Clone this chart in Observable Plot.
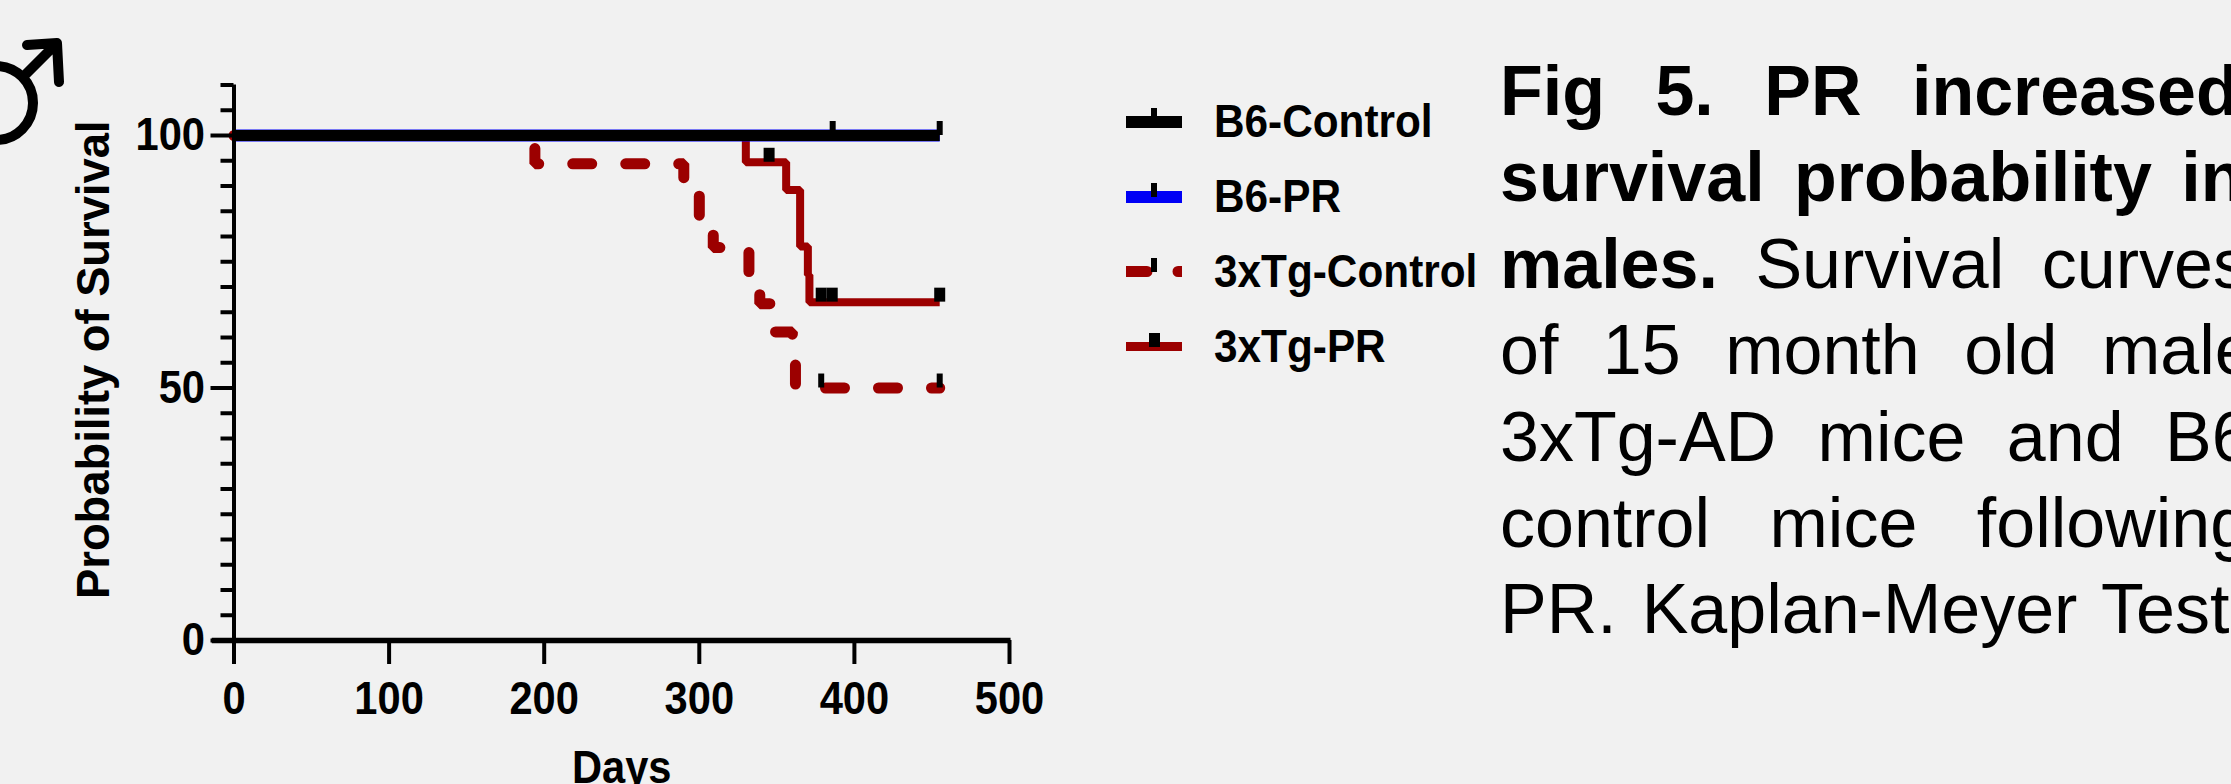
<!DOCTYPE html>
<html>
<head>
<meta charset="utf-8">
<script src="https://cdn.jsdelivr.net/npm/d3@7"></script>
<script src="https://cdn.jsdelivr.net/npm/@observablehq/plot@0.6"></script>
<style>
html,body{margin:0;padding:0;width:2231px;height:784px;overflow:hidden;background:#f1f1f1;}
#stage{position:relative;width:2231px;height:784px;overflow:hidden;}
#chart,#overlay{position:absolute;left:0;top:0;}
#caption{position:absolute;left:1500px;top:48px;width:731px;overflow:hidden;font:70px/86.4px "Liberation Sans",Arial,sans-serif;color:#000;}
#caption div{white-space:nowrap;}
</style>
</head>
<body>
<div id="stage">
  <div id="chart"></div>
  <svg id="overlay" width="2231" height="784"></svg>
  <div id="caption"></div>
</div>
<script>
const b6Days = [0, 455];
const b6Surv = [100, 100];
const ctlDays = [0, 194, 290, 300, 309, 332, 339, 349, 360, 362, 455];
const ctlSurv = [100, 94.4, 88.9, 83.3, 77.8, 72.2, 66.7, 61.1, 55.6, 50, 50];
const prDays = [0, 330, 356, 365, 370, 371, 455];
const prSurv = [100, 94.7, 89.2, 78, 72.4, 67, 67];

const censorB6Days = [386, 455];
const censorB6Surv = [100, 100];
const censorCtlDays = [378.6, 455];
const censorCtlSurv = [50, 50];
const censorPrDays = [345, 378.6, 385.7, 455];
const censorPrSurv = [94.7, 67, 67, 67];

const xTicks = [0, 100, 200, 300, 400, 500];
const yMajor = [0, 50, 100];
const yMinor = [5, 10, 15, 20, 25, 30, 35, 40, 45, 55, 60, 65, 70, 75, 80, 85, 90, 95, 105, 110];

const legendNames = ["B6-Control", "B6-PR", "3xTg-Control", "3xTg-PR"];
const captionLines = [
  [`<b>Fig 5. PR increased</b>`, 31],
  [`<b>survival probability in</b>`, 10],
  [`<b>males.</b> Survival curves`, 18],
  [`of 15 month old males`, 25],
  [`3xTg-AD mice and B6`, 22],
  [`control mice following`, 40],
  [`PR. Kaplan-Meyer Test`, 5.5]
];

const RED = "#9c0000", BLUE = "#0000f5";
const zip = (xs, ys) => xs.map((x, i) => ({x, y: ys[i]}));
const censorHeight = 2.77;  // in survival units
const censor = (xs, ys, w) => Plot.ruleX(zip(xs, ys), {
  x: "x", y1: "y", y2: d => d.y + censorHeight, stroke: "#000", strokeWidth: w
});
const solid = {x: "x", y: "y", curve: "step-after", strokeLinecap: "butt", strokeLinejoin: "miter"};

const plot = Plot.plot({
  width: 2231, height: 784,
  marginLeft: 233.5, marginRight: 1222, marginTop: 84.5, marginBottom: 144,
  x: {domain: [0, 500], label: null},
  y: {domain: [0, 110], label: null},
  style: {background: "transparent", fontFamily: '"Liberation Sans",Arial,sans-serif', fontWeight: "bold", fontSize: "46px", color: "#000", overflow: "visible", maxWidth: "none"},
  marks: [
    Plot.line(zip(ctlDays, ctlSurv), {...solid, stroke: RED, strokeWidth: 11, strokeDasharray: "19 34", strokeDashoffset: 4, strokeLinecap: "round"}),
    Plot.line(zip(prDays, prSurv), {...solid, stroke: RED, strokeWidth: 8}),
    Plot.line(zip(b6Days, b6Surv), {...solid, stroke: BLUE, strokeWidth: 12}),
    Plot.line(zip(b6Days, b6Surv), {...solid, stroke: "#000", strokeWidth: 11}),
    censor(censorB6Days, censorB6Surv, 6),
    censor(censorCtlDays, censorCtlSurv, 6),
    censor(censorPrDays, censorPrSurv, 11),
    Plot.axisY({ticks: yMinor, tickSize: 13, tickFormat: null, text: null, strokeWidth: 4, label: null}),
    Plot.axisY({ticks: yMajor, tickSize: 23, tickPadding: 6, strokeWidth: 4, label: "Probability of Survival", labelAnchor: "center", labelArrow: "none", labelOffset: 158}),
    Plot.axisX({ticks: xTicks, tickSize: 24, tickPadding: 17, strokeWidth: 4, label: "Days", labelAnchor: "center", labelArrow: "none", labelOffset: 142}),
    Plot.ruleX([0], {y1: 0, y2: 110, stroke: "#000", strokeWidth: 4}),
    Plot.ruleY([0], {x1: -14, x2: 501, stroke: "#000", strokeWidth: 5.5})
  ]
});
document.getElementById("chart").appendChild(plot);

// legend and the male symbol
const ov = d3.select("#overlay");
ov.append("clipPath").attr("id", "swatchClip").append("rect").attr("x", 1126).attr("y", 0).attr("width", 56).attr("height", 784);
const swatches = [
  {y: 122, w: 12, c: "#000", tx: 1154, tw: 6, ty: 108},
  {y: 197, w: 12, c: BLUE, tx: 1154, tw: 6, ty: 183},
  {y: 271.5, w: 11, c: RED, dash: "21 31", cap: "round", tx: 1154, tw: 6, ty: 258},
  {y: 346.5, w: 9, c: RED, tx: 1154.5, tw: 11, ty: 333}
];
const baselines = [137, 212, 287, 362];
swatches.forEach((s, i) => {
  const l = ov.append("line").attr("x1", 1126).attr("x2", 1182).attr("y1", s.y).attr("y2", s.y)
    .attr("stroke", s.c).attr("stroke-width", s.w);
  if (s.dash) {
    l.attr("x2", 1200).attr("stroke-dasharray", s.dash).attr("stroke-linecap", s.cap).attr("clip-path", "url(#swatchClip)");
  }
  ov.append("rect").attr("x", s.tx - s.tw / 2).attr("y", s.ty).attr("width", s.tw).attr("height", 14).attr("fill", "#000");
  ov.append("text").attr("x", 1214).attr("y", baselines[i]).text(legendNames[i])
    .attr("font-family", '"Liberation Sans",Arial,sans-serif').attr("font-weight", "bold").attr("font-size", 46);
});
ov.append("circle").attr("cx", -4).attr("cy", 103).attr("r", 37).attr("fill", "none").attr("stroke", "#000").attr("stroke-width", 10);
ov.append("path").attr("d", "M26 74L57 43M27 45L57 43L59 82").attr("fill", "none").attr("stroke", "#000").attr("stroke-width", 10).attr("stroke-linecap", "round").attr("stroke-linejoin", "round");

// the source figure is squeezed horizontally: fit upright chart text to its width
const squeeze = (sel, k) => d3.selectAll(sel).each(function () {
  const t = this;
  if (t.querySelector("tspan")) return;
  const rotatedTitle = t.textContent === "Probability of Survival";
  const len = t.getComputedTextLength();
  if (len > 0) {
    t.setAttribute("textLength", (len * (rotatedTitle ? 0.985 : k)).toFixed(1));
    t.setAttribute("lengthAdjust", "spacingAndGlyphs");
    if (rotatedTitle) t.setAttribute("dx", 3);
  }
});
squeeze("#chart svg text", 0.905);
squeeze("#overlay text", 0.92);

d3.select("#caption").selectAll("div").data(captionLines).join("div")
  .style("word-spacing", d => d[1] + "px").html(d => d[0]);
</script>
</body>
</html>
